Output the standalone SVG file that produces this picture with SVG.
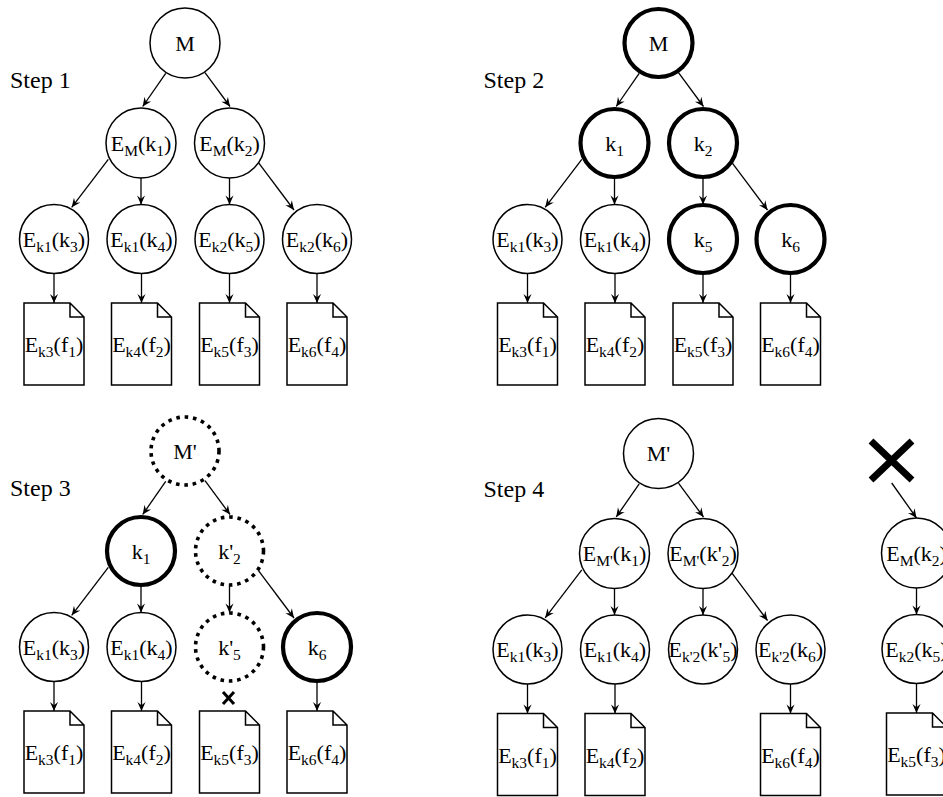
<svg xmlns="http://www.w3.org/2000/svg" xmlns:xlink="http://www.w3.org/1999/xlink" width="943" height="797" viewBox="0 0 943 797">
<style>
  text { font-family: "Liberation Serif", "Times New Roman", serif; fill: #000; }
  .t { font-size: 22px; text-anchor: middle; }
  .s { font-size: 15.5px; }
  .lbl { font-size: 24px; }
  .n { fill: #fff; stroke: #000; stroke-width: 1.5; }
  .b { fill: #fff; stroke: #000; stroke-width: 4.2; }
  .d { fill: #fff; stroke: #000; stroke-width: 3.6; stroke-dasharray: 3.6 4.8; }
  .e { fill: none; stroke: #000; stroke-width: 1.3; marker-end: url(#ah); }
  .x { stroke: #000; fill: none; }
</style>
<defs>
  <marker id="ah" viewBox="0 0 10 10" refX="10" refY="5" markerWidth="10" markerHeight="9" markerUnits="userSpaceOnUse" orient="auto">
    <path d="M0,0.5 L10,5 L0,9.5 L3.5,5 Z" fill="#000"/>
  </marker>
  <path id="doc" d="M-30,0 H16 L30,14 V82 H-30 Z M16,0 V14 H30" fill="#fff" stroke="#000" stroke-width="1.5"/>
</defs>
<rect width="943" height="797" fill="#fff"/>

<!-- ================= STEP 1 ================= -->
<g id="step1">
  <text class="lbl" x="10" y="88">Step 1</text>
  <g id="s1-edges">
    <path class="e" d="M165.7,73.3 L142.7,106.5"/>
    <path class="e" d="M205,72.7 L230,106.5"/>
    <path class="e" d="M108.3,159.3 L71.7,207.3"/>
    <path class="e" d="M141,178 L141,204.5"/>
    <path class="e" d="M229.5,178 L229.5,204.5"/>
    <path class="e" d="M258.3,162.3 L294,210"/>
    <path class="e" d="M54,273.5 L54,303"/>
    <path class="e" d="M141.5,273.5 L141.5,303"/>
    <path class="e" d="M229.5,273.5 L229.5,303"/>
    <path class="e" d="M317,273.5 L317,303"/>
  </g>
  <g id="s1-M"><circle class="n" cx="185" cy="43" r="35"/><text class="t" x="185" y="50.5">M</text></g>
  <g id="s1-EMk1"><circle class="n" cx="141" cy="143" r="35"/><text class="t" x="141" y="150.5">E<tspan class="s" dy="5">M</tspan><tspan dy="-5">(k</tspan><tspan class="s" dy="5">1</tspan><tspan dy="-5">)</tspan></text></g>
  <g id="s1-EMk2"><circle class="n" cx="229.5" cy="143" r="35"/><text class="t" x="229.5" y="150.5">E<tspan class="s" dy="5">M</tspan><tspan dy="-5">(k</tspan><tspan class="s" dy="5">2</tspan><tspan dy="-5">)</tspan></text></g>
  <g id="s1-Ek1k3"><circle class="n" cx="54" cy="239" r="34.5"/><text class="t" x="54" y="246.5">E<tspan class="s" dy="5">k1</tspan><tspan dy="-5">(k</tspan><tspan class="s" dy="5">3</tspan><tspan dy="-5">)</tspan></text></g>
  <g id="s1-Ek1k4"><circle class="n" cx="141.5" cy="239" r="34.5"/><text class="t" x="141.5" y="246.5">E<tspan class="s" dy="5">k1</tspan><tspan dy="-5">(k</tspan><tspan class="s" dy="5">4</tspan><tspan dy="-5">)</tspan></text></g>
  <g id="s1-Ek2k5"><circle class="n" cx="229.5" cy="239" r="34.5"/><text class="t" x="229.5" y="246.5">E<tspan class="s" dy="5">k2</tspan><tspan dy="-5">(k</tspan><tspan class="s" dy="5">5</tspan><tspan dy="-5">)</tspan></text></g>
  <g id="s1-Ek2k6"><circle class="n" cx="317" cy="239" r="34.5"/><text class="t" x="317" y="246.5">E<tspan class="s" dy="5">k2</tspan><tspan dy="-5">(k</tspan><tspan class="s" dy="5">6</tspan><tspan dy="-5">)</tspan></text></g>
  <g id="s1-f1"><use xlink:href="#doc" x="54" y="303"/><text class="t" x="54" y="352">E<tspan class="s" dy="5">k3</tspan><tspan dy="-5">(f</tspan><tspan class="s" dy="5">1</tspan><tspan dy="-5">)</tspan></text></g>
  <g id="s1-f2"><use xlink:href="#doc" x="141.5" y="303"/><text class="t" x="141.5" y="352">E<tspan class="s" dy="5">k4</tspan><tspan dy="-5">(f</tspan><tspan class="s" dy="5">2</tspan><tspan dy="-5">)</tspan></text></g>
  <g id="s1-f3"><use xlink:href="#doc" x="229.5" y="303"/><text class="t" x="229.5" y="352">E<tspan class="s" dy="5">k5</tspan><tspan dy="-5">(f</tspan><tspan class="s" dy="5">3</tspan><tspan dy="-5">)</tspan></text></g>
  <g id="s1-f4"><use xlink:href="#doc" x="317" y="303"/><text class="t" x="317" y="352">E<tspan class="s" dy="5">k6</tspan><tspan dy="-5">(f</tspan><tspan class="s" dy="5">4</tspan><tspan dy="-5">)</tspan></text></g>
</g>

<!-- ================= STEP 2 ================= -->
<g id="step2" transform="translate(473.5,0)">
  <text class="lbl" x="10" y="88">Step 2</text>
  <g id="s2-edges">
    <path class="e" d="M165.7,73.3 L142.7,106.5"/>
    <path class="e" d="M205,72.7 L230,106.5"/>
    <path class="e" d="M108.3,159.3 L71.7,207.3"/>
    <path class="e" d="M141,178 L141,204.5"/>
    <path class="e" d="M229.5,178 L229.5,204.5"/>
    <path class="e" d="M258.3,162.3 L294,210"/>
    <path class="e" d="M54,273.5 L54,303"/>
    <path class="e" d="M141.5,273.5 L141.5,303"/>
    <path class="e" d="M229.5,273.5 L229.5,303"/>
    <path class="e" d="M317,273.5 L317,303"/>
  </g>
  <g id="s2-M"><circle class="b" cx="185" cy="43" r="34"/><text class="t" x="185" y="50.5">M</text></g>
  <g id="s2-k1"><circle class="b" cx="141" cy="143" r="34"/><text class="t" x="141" y="150.5">k<tspan class="s" dy="5">1</tspan></text></g>
  <g id="s2-k2"><circle class="b" cx="229.5" cy="143" r="34"/><text class="t" x="229.5" y="150.5">k<tspan class="s" dy="5">2</tspan></text></g>
  <g id="s2-Ek1k3"><circle class="n" cx="54" cy="239" r="34.5"/><text class="t" x="54" y="246.5">E<tspan class="s" dy="5">k1</tspan><tspan dy="-5">(k</tspan><tspan class="s" dy="5">3</tspan><tspan dy="-5">)</tspan></text></g>
  <g id="s2-Ek1k4"><circle class="n" cx="141.5" cy="239" r="34.5"/><text class="t" x="141.5" y="246.5">E<tspan class="s" dy="5">k1</tspan><tspan dy="-5">(k</tspan><tspan class="s" dy="5">4</tspan><tspan dy="-5">)</tspan></text></g>
  <g id="s2-k5"><circle class="b" cx="229.5" cy="239" r="34"/><text class="t" x="229.5" y="246.5">k<tspan class="s" dy="5">5</tspan></text></g>
  <g id="s2-k6"><circle class="b" cx="317" cy="239" r="34"/><text class="t" x="317" y="246.5">k<tspan class="s" dy="5">6</tspan></text></g>
  <g id="s2-f1"><use xlink:href="#doc" x="54" y="303"/><text class="t" x="54" y="352">E<tspan class="s" dy="5">k3</tspan><tspan dy="-5">(f</tspan><tspan class="s" dy="5">1</tspan><tspan dy="-5">)</tspan></text></g>
  <g id="s2-f2"><use xlink:href="#doc" x="141.5" y="303"/><text class="t" x="141.5" y="352">E<tspan class="s" dy="5">k4</tspan><tspan dy="-5">(f</tspan><tspan class="s" dy="5">2</tspan><tspan dy="-5">)</tspan></text></g>
  <g id="s2-f3"><use xlink:href="#doc" x="229.5" y="303"/><text class="t" x="229.5" y="352">E<tspan class="s" dy="5">k5</tspan><tspan dy="-5">(f</tspan><tspan class="s" dy="5">3</tspan><tspan dy="-5">)</tspan></text></g>
  <g id="s2-f4"><use xlink:href="#doc" x="317" y="303"/><text class="t" x="317" y="352">E<tspan class="s" dy="5">k6</tspan><tspan dy="-5">(f</tspan><tspan class="s" dy="5">4</tspan><tspan dy="-5">)</tspan></text></g>
</g>

<!-- ================= STEP 3 ================= -->
<g id="step3" transform="translate(0,408)">
  <text class="lbl" x="10" y="88">Step 3</text>
  <g id="s3-edges">
    <path class="e" d="M165.7,73.3 L142.7,106.5"/>
    <path class="e" d="M205,72.7 L230,106.5"/>
    <path class="e" d="M108.3,159.3 L71.7,207.3"/>
    <path class="e" d="M141,178 L141,204.5"/>
    <path class="e" d="M229.5,178 L229.5,204.5"/>
    <path class="e" d="M258.3,162.3 L294,210"/>
    <path class="e" d="M54,273.5 L54,303"/>
    <path class="e" d="M141.5,273.5 L141.5,303"/>
    <path class="e" d="M317,273.5 L317,303"/>
    <path class="x" stroke-width="3" d="M223,284 L234,296 M234,284 L223,296"/>
  </g>
  <g id="s3-M"><circle class="d" cx="185" cy="43" r="34"/><text class="t" x="185" y="50.5">M'</text></g>
  <g id="s3-k1"><circle class="b" cx="141" cy="143" r="34"/><text class="t" x="141" y="150.5">k<tspan class="s" dy="5">1</tspan></text></g>
  <g id="s3-k2"><circle class="d" cx="229.5" cy="143" r="34"/><text class="t" x="229.5" y="150.5">k'<tspan class="s" dy="5">2</tspan></text></g>
  <g id="s3-Ek1k3"><circle class="n" cx="54" cy="239" r="34.5"/><text class="t" x="54" y="246.5">E<tspan class="s" dy="5">k1</tspan><tspan dy="-5">(k</tspan><tspan class="s" dy="5">3</tspan><tspan dy="-5">)</tspan></text></g>
  <g id="s3-Ek1k4"><circle class="n" cx="141.5" cy="239" r="34.5"/><text class="t" x="141.5" y="246.5">E<tspan class="s" dy="5">k1</tspan><tspan dy="-5">(k</tspan><tspan class="s" dy="5">4</tspan><tspan dy="-5">)</tspan></text></g>
  <g id="s3-k5"><circle class="d" cx="229.5" cy="239" r="34"/><text class="t" x="229.5" y="246.5">k'<tspan class="s" dy="5">5</tspan></text></g>
  <g id="s3-k6"><circle class="b" cx="317" cy="239" r="34"/><text class="t" x="317" y="246.5">k<tspan class="s" dy="5">6</tspan></text></g>
  <g id="s3-f1"><use xlink:href="#doc" x="54" y="303"/><text class="t" x="54" y="352">E<tspan class="s" dy="5">k3</tspan><tspan dy="-5">(f</tspan><tspan class="s" dy="5">1</tspan><tspan dy="-5">)</tspan></text></g>
  <g id="s3-f2"><use xlink:href="#doc" x="141.5" y="303"/><text class="t" x="141.5" y="352">E<tspan class="s" dy="5">k4</tspan><tspan dy="-5">(f</tspan><tspan class="s" dy="5">2</tspan><tspan dy="-5">)</tspan></text></g>
  <g id="s3-f3"><use xlink:href="#doc" x="229.5" y="303"/><text class="t" x="229.5" y="352">E<tspan class="s" dy="5">k5</tspan><tspan dy="-5">(f</tspan><tspan class="s" dy="5">3</tspan><tspan dy="-5">)</tspan></text></g>
  <g id="s3-f4"><use xlink:href="#doc" x="317" y="303"/><text class="t" x="317" y="352">E<tspan class="s" dy="5">k6</tspan><tspan dy="-5">(f</tspan><tspan class="s" dy="5">4</tspan><tspan dy="-5">)</tspan></text></g>
</g>

<!-- ================= STEP 4 ================= -->
<text class="lbl" x="483.5" y="497">Step 4</text>
<g id="step4" transform="translate(473.5,410.5)">
  <g id="s4-edges">
    <path class="e" d="M165.7,73.3 L142.7,106.5"/>
    <path class="e" d="M205,72.7 L230,106.5"/>
    <path class="e" d="M108.3,159.3 L71.7,207.3"/>
    <path class="e" d="M141,178 L141,204.5"/>
    <path class="e" d="M229.5,178 L229.5,204.5"/>
    <path class="e" d="M258.3,162.3 L294,210"/>
    <path class="e" d="M54,273.5 L54,303"/>
    <path class="e" d="M141.5,273.5 L141.5,303"/>
    <path class="e" d="M317,273.5 L317,303"/>
  </g>
  <g id="s4-M"><circle class="n" cx="185" cy="43" r="35"/><text class="t" x="185" y="50.5">M'</text></g>
  <g id="s4-EMk1"><circle class="n" cx="141" cy="143" r="35"/><text class="t" x="141" y="150.5">E<tspan class="s" dy="5">M'</tspan><tspan dy="-5">(k</tspan><tspan class="s" dy="5">1</tspan><tspan dy="-5">)</tspan></text></g>
  <g id="s4-EMk2"><circle class="n" cx="229.5" cy="143" r="35"/><text class="t" x="229.5" y="150.5">E<tspan class="s" dy="5">M'</tspan><tspan dy="-5">(k'</tspan><tspan class="s" dy="5">2</tspan><tspan dy="-5">)</tspan></text></g>
  <g id="s4-Ek1k3"><circle class="n" cx="54" cy="239" r="34.5"/><text class="t" x="54" y="246.5">E<tspan class="s" dy="5">k1</tspan><tspan dy="-5">(k</tspan><tspan class="s" dy="5">3</tspan><tspan dy="-5">)</tspan></text></g>
  <g id="s4-Ek1k4"><circle class="n" cx="141.5" cy="239" r="34.5"/><text class="t" x="141.5" y="246.5">E<tspan class="s" dy="5">k1</tspan><tspan dy="-5">(k</tspan><tspan class="s" dy="5">4</tspan><tspan dy="-5">)</tspan></text></g>
  <g id="s4-Ek2k5"><circle class="n" cx="229.5" cy="239" r="34.5"/><text class="t" x="229.5" y="246.5">E<tspan class="s" dy="5">k'2</tspan><tspan dy="-5">(k'</tspan><tspan class="s" dy="5">5</tspan><tspan dy="-5">)</tspan></text></g>
  <g id="s4-Ek2k6"><circle class="n" cx="317" cy="239" r="34.5"/><text class="t" x="317" y="246.5">E<tspan class="s" dy="5">k'2</tspan><tspan dy="-5">(k</tspan><tspan class="s" dy="5">6</tspan><tspan dy="-5">)</tspan></text></g>
  <g id="s4-f1"><use xlink:href="#doc" x="54" y="303"/><text class="t" x="54" y="352">E<tspan class="s" dy="5">k3</tspan><tspan dy="-5">(f</tspan><tspan class="s" dy="5">1</tspan><tspan dy="-5">)</tspan></text></g>
  <g id="s4-f2"><use xlink:href="#doc" x="141.5" y="303"/><text class="t" x="141.5" y="352">E<tspan class="s" dy="5">k4</tspan><tspan dy="-5">(f</tspan><tspan class="s" dy="5">2</tspan><tspan dy="-5">)</tspan></text></g>
  <g id="s4-f4"><use xlink:href="#doc" x="317" y="303"/><text class="t" x="317" y="352">E<tspan class="s" dy="5">k6</tspan><tspan dy="-5">(f</tspan><tspan class="s" dy="5">4</tspan><tspan dy="-5">)</tspan></text></g>
</g>

<!-- ================= ORPHANED BRANCH ================= -->
<g id="orphan">
  <g id="o-edges">
    <path class="x" stroke-width="7" d="M871,441 L912,480 M912,441 L871,480"/>
    <path class="e" d="M891.7,483 L916.5,518"/>
    <path class="e" d="M916.5,588 L916.5,614.5"/>
    <path class="e" d="M916.5,683.5 L916.5,713"/>
  </g>
  <g id="o-EMk2"><circle class="n" cx="916.5" cy="553" r="35"/><text class="t" x="916.5" y="560.5">E<tspan class="s" dy="5">M</tspan><tspan dy="-5">(k</tspan><tspan class="s" dy="5">2</tspan><tspan dy="-5">)</tspan></text></g>
  <g id="o-Ek2k5"><circle class="n" cx="916.5" cy="649" r="34.5"/><text class="t" x="916.5" y="656.5">E<tspan class="s" dy="5">k2</tspan><tspan dy="-5">(k</tspan><tspan class="s" dy="5">5</tspan><tspan dy="-5">)</tspan></text></g>
  <g id="o-f3"><use xlink:href="#doc" x="916.5" y="713"/><text class="t" x="916.5" y="762">E<tspan class="s" dy="5">k5</tspan><tspan dy="-5">(f</tspan><tspan class="s" dy="5">3</tspan><tspan dy="-5">)</tspan></text></g>
</g>
</svg>
